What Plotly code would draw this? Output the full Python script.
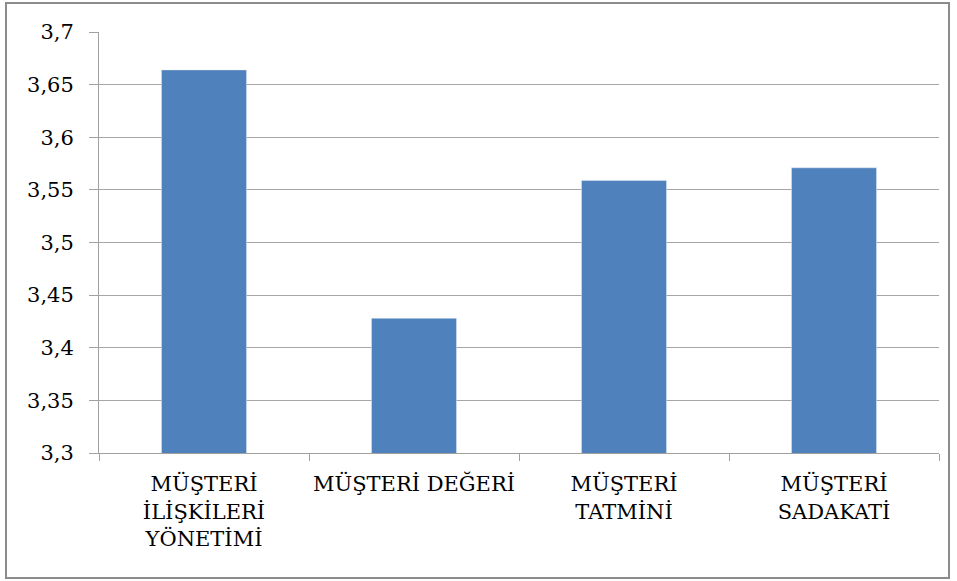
import plotly.graph_objects as go

categories = ["MÜŞTERİ<br>İLİŞKİLERİ<br>YÖNETİMİ", "MÜŞTERİ DEĞERİ", "MÜŞTERİ<br>TATMİNİ", "MÜŞTERİ<br>SADAKATİ"]
values = [3.664, 3.428, 3.559, 3.571]
tick_vals = [3.3, 3.35, 3.4, 3.45, 3.5, 3.55, 3.6, 3.65, 3.7]
tick_text = ["3,3", "3,35", "3,4", "3,45", "3,5", "3,55", "3,6", "3,65", "3,7"]

font = dict(family="DejaVu Serif", size=21, color="#000000")

fig = go.Figure(go.Bar(x=categories, y=values, marker=dict(color="#4F81BD"), width=0.405))

fig.update_layout(
    width=957, height=581,
    margin=dict(l=99, r=18, t=32, b=128, autoexpand=False),
    paper_bgcolor="white", plot_bgcolor="white",
    font=font, showlegend=False, bargap=0.6,
    shapes=[dict(type="rect", xref="paper", yref="paper",
                 x0=-0.1107, x1=1.0119, y0=-0.2969, y1=1.0689,
                 line=dict(color="#8C8C8C", width=2), fillcolor="rgba(0,0,0,0)", layer="below")],
)
fig.update_yaxes(range=[3.3, 3.7], tickvals=tick_vals, ticktext=tick_text,
                 showgrid=True, gridcolor="#A6A6A6", gridwidth=1,
                 showline=True, linecolor="#A0A0A0", linewidth=1,
                 ticks="outside", ticklen=9, tickcolor="#A0A0A0",
                 ticklabelstandoff=11, zeroline=False, automargin=False)
fig.update_xaxes(showline=True, linecolor="#A0A0A0", linewidth=1,
                 ticks="outside", ticklen=7, tickcolor="#A0A0A0",
                 tickson="boundaries", showgrid=False, tickangle=0,
                 ticklabelstandoff=12, automargin=False)

fig.write_html("out.html")
